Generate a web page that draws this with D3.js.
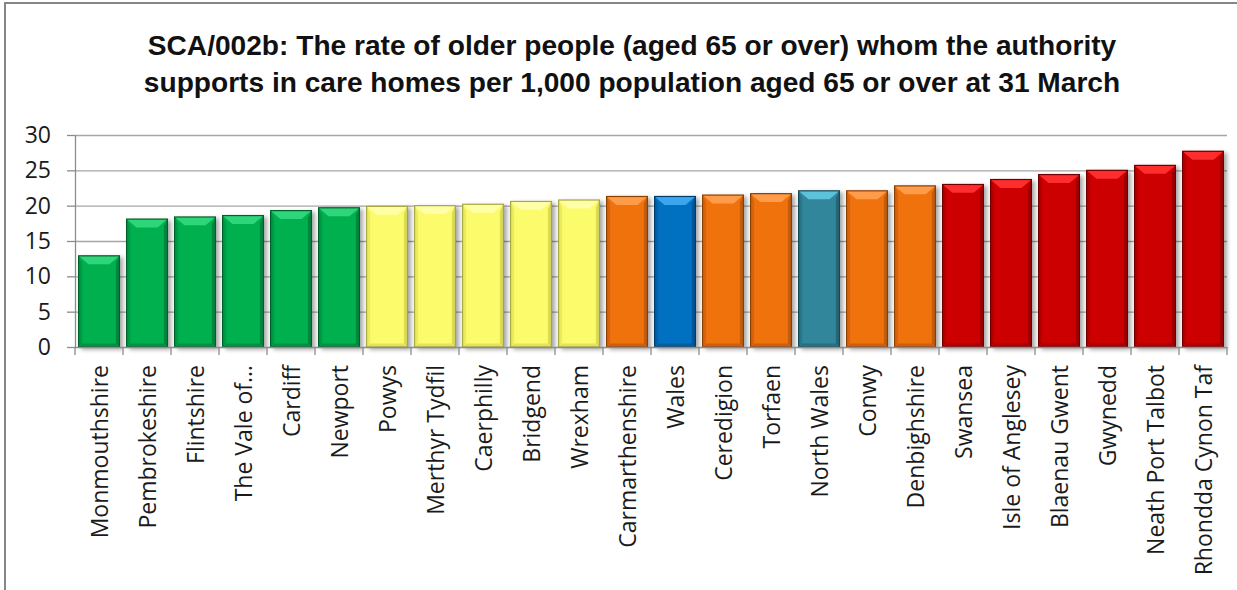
<!DOCTYPE html>
<html>
<head>
<meta charset="utf-8">
<script src="https://cdn.jsdelivr.net/npm/d3@7"></script>
<style>
  html, body { margin: 0; padding: 0; background: #fff; }
  svg { display: block; }
</style>
</head>
<body>
<svg id="chart" width="1237" height="590"></svg>
<script>
// ---- DATA ----
const titleLines = [
  "SCA/002b: The rate of older people (aged 65 or over) whom the authority",
  "supports in care homes per 1,000 population aged 65 or over at 31 March"
];
const categories = [
  "Monmouthshire", "Pembrokeshire", "Flintshire", "The Vale of…", "Cardiff", "Newport",
  "Powys", "Merthyr Tydfil", "Caerphilly", "Bridgend", "Wrexham", "Carmarthenshire",
  "Wales", "Ceredigion", "Torfaen", "North Wales", "Conwy", "Denbighshire",
  "Swansea", "Isle of Anglesey", "Blaenau Gwent", "Gwynedd", "Neath Port Talbot", "Rhondda Cynon Taf"
];
const values = [
  12.9, 18.1, 18.4, 18.6, 19.3, 19.7,
  19.9, 20.0, 20.2, 20.6, 20.8, 21.3,
  21.3, 21.5, 21.7, 22.1, 22.1, 22.8,
  23.0, 23.7, 24.4, 25.0, 25.7, 27.7
];
const groups = [
  "q1", "q1", "q1", "q1", "q1", "q1",
  "q2", "q2", "q2", "q2", "q2", "q3",
  "wales", "q3", "q3", "northwales", "q3", "q3",
  "q4", "q4", "q4", "q4", "q4", "q4"
];
const yTicks = [0, 5, 10, 15, 20, 25, 30];

// ---- STYLES ----
const palette = {
  q1:         { base: "#00b050", light: "#2fd67a", dark: "#007f3a", stroke: "#00602a" },
  q2:         { base: "#fbfb6c", light: "#ffffa8", dark: "#d6d650", stroke: "#a8a840" },
  q3:         { base: "#f0720f", light: "#ff9c48", dark: "#b85508", stroke: "#8a4006" },
  wales:      { base: "#0070c0", light: "#3aa6ee", dark: "#00508c", stroke: "#003d6c" },
  northwales: { base: "#31869b", light: "#5cc2da", dark: "#216070", stroke: "#184a56" },
  q4:         { base: "#cc0000", light: "#ff2e2e", dark: "#960000", stroke: "#700000" }
};

const svg = d3.select("#chart");
const margin = { left: 75, right: 1227, top: 135, bottom: 347 };

// outer frame
svg.append("rect")
  .attr("x", 5).attr("y", 3).attr("width", 1260).attr("height", 620)
  .attr("fill", "#fff").attr("stroke", "#868686").attr("stroke-width", 2);

// drop shadow filter
const defs = svg.append("defs");
const f = defs.append("filter").attr("id", "shadow")
  .attr("x", "-20%").attr("y", "-10%").attr("width", "150%").attr("height", "130%");
f.append("feGaussianBlur").attr("in", "SourceAlpha").attr("stdDeviation", 2.2).attr("result", "b");
f.append("feOffset").attr("in", "b").attr("dx", 3).attr("dy", 2).attr("result", "o");
f.append("feComponentTransfer").attr("in", "o").attr("result", "s")
  .append("feFuncA").attr("type", "linear").attr("slope", 0.35);
const m = f.append("feMerge");
m.append("feMergeNode").attr("in", "s");
m.append("feMergeNode").attr("in", "SourceGraphic");

// scales
const x = d3.scaleBand().domain(categories)
  .range([margin.left, margin.right]).paddingInner(0.15).paddingOuter(0.075);
const y = d3.scaleLinear().domain([0, 30]).range([margin.bottom, margin.top]);

// gridlines
svg.append("g").selectAll("line").data(yTicks.filter(t => t > 0)).join("line")
  .attr("x1", margin.left).attr("x2", margin.right)
  .attr("y1", d => y(d) + 0.5).attr("y2", d => y(d) + 0.5)
  .attr("stroke", "#a6a6a6").attr("stroke-width", 1.3);

// y axis
const yAxis = svg.append("g").attr("transform", `translate(${margin.left},0)`)
  .call(d3.axisLeft(y).tickValues(yTicks).tickSize(8).tickPadding(16).tickSizeOuter(0));
yAxis.select(".domain").attr("stroke", "#8c8c8c").attr("stroke-width", 1.3);
yAxis.selectAll(".tick line").attr("stroke", "#8c8c8c").attr("stroke-width", 1.3);
yAxis.selectAll(".tick text")
  .attr("font-family", "'Open Sans', sans-serif").attr("font-size", 23)
  .attr("fill", "#1a1a1a");

// bars
const step = x.step();
const bars = svg.append("g").selectAll("g").data(categories).join("g")
  .attr("filter", "url(#shadow)");
bars.each(function(c, i) {
  const g = d3.select(this);
  const col = palette[groups[i]];
  const x0 = x(c), w = x.bandwidth();
  const y0 = y(values[i]), y1 = y(0);
  const b = 7;
  g.append("rect").attr("x", x0).attr("y", y0).attr("width", w).attr("height", y1 - y0)
    .attr("fill", col.base);
  // left & right edge shading
  g.append("path").attr("d", `M${x0},${y0} L${x0 + b * 0.5},${y0 + b} L${x0 + b * 0.5},${y1 - b * 0.5} L${x0},${y1} Z`)
    .attr("fill", col.dark).attr("opacity", 0.45);
  g.append("path").attr("d", `M${x0 + w},${y0} L${x0 + w - b * 0.5},${y0 + b} L${x0 + w - b * 0.5},${y1 - b * 0.5} L${x0 + w},${y1} Z`)
    .attr("fill", col.dark).attr("opacity", 0.8);
  // bottom shading
  g.append("path").attr("d", `M${x0},${y1} L${x0 + b * 0.5},${y1 - b * 0.5} L${x0 + w - b * 0.5},${y1 - b * 0.5} L${x0 + w},${y1} Z`)
    .attr("fill", col.dark).attr("opacity", 0.6);
  // top bevel highlight
  g.append("path").attr("d", `M${x0},${y0} L${x0 + w},${y0} L${x0 + w - b * 1.4},${y0 + b * 1.2} L${x0 + b * 1.4},${y0 + b * 1.2} Z`)
    .attr("fill", col.light);
  g.append("rect").attr("x", x0).attr("y", y0).attr("width", w).attr("height", y1 - y0)
    .attr("fill", "none").attr("stroke", col.stroke).attr("stroke-width", 1.2);
});

// x axis line + ticks at band boundaries
svg.append("line").attr("x1", margin.left).attr("x2", margin.right)
  .attr("y1", y(0) + 0.5).attr("y2", y(0) + 0.5)
  .attr("stroke", "#8c8c8c").attr("stroke-width", 1.3);
const bounds = d3.range(categories.length + 1).map(i => margin.left + i * step);
svg.append("g").selectAll("line").data(bounds).join("line")
  .attr("x1", d => d).attr("x2", d => d)
  .attr("y1", y(0)).attr("y2", y(0) + 8)
  .attr("stroke", "#8c8c8c").attr("stroke-width", 1.3);

// x labels
svg.append("g").selectAll("text").data(categories).join("text")
  .attr("transform", d => `translate(${x(d) + x.bandwidth() / 2 + 1},365) rotate(-90)`)
  .attr("text-anchor", "end").attr("dy", "0.36em")
  .attr("font-family", "'Open Sans', sans-serif").attr("font-size", 23)
  .attr("fill", "#1a1a1a")
  .text(d => d);

// title
const tg = svg.append("g");
const tEls = tg.selectAll("text").data(titleLines).join("text")
  .attr("x", 632).attr("y", (d, i) => 55 + i * 37)
  .attr("text-anchor", "middle")
  .attr("font-family", "'Liberation Sans Narrow', 'Arial Narrow', sans-serif")
  .attr("font-weight", "bold").attr("font-size", 26).attr("fill", "#111")
  .text(d => d);
const w0 = tEls.nodes()[0].getComputedTextLength();
const fs = 26 * 969 / w0;
tEls.attr("font-size", fs);
</script>
</body>
</html>
